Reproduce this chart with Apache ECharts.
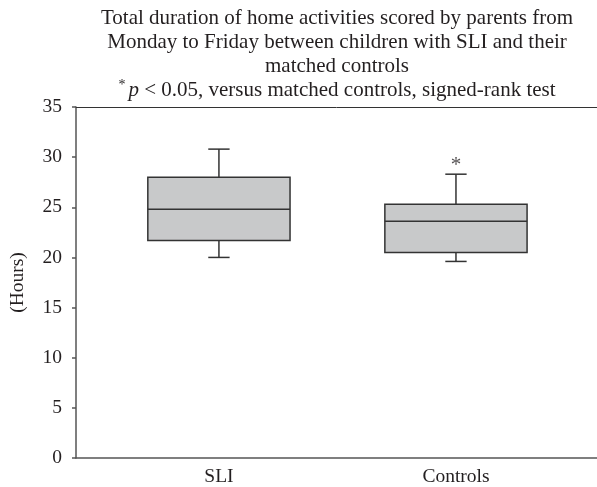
<!DOCTYPE html>
<html>
<head>
<meta charset="utf-8">
<script src="https://cdn.jsdelivr.net/npm/echarts@6/dist/echarts.min.js"></script>
<style>
  html, body { margin: 0; padding: 0; background: #ffffff; }
  #chart { width: 597px; height: 487px; }
</style>
</head>
<body>
<div id="chart"></div>
<script>
// Weekday home-activity hours (Monday–Friday), box-and-whisker summary per group
const categories = ['SLI', 'Controls'];
const whiskerLow = [20.0, 19.6];
const quartile1 = [21.7, 20.5];
const medians = [24.8, 23.6];
const quartile3 = [28.0, 25.3];
const whiskerHigh = [30.8, 28.3];

// Significance marker (asterisk) placed above the Controls box
const starGroups = ['Controls'];
const starHeights = [29.2];

// Y axis range and step (hours)
const yMin = 0;
const yMax = 35;
const yStep = 5;

const FONT = '"Liberation Serif", "Times New Roman", serif';
const INK = '#231f20';
const AXIS = '#555555';

const positions = categories.map((_, i) => i + 1);
const boxData = categories.map((_, i) => [
  positions[i], whiskerLow[i], quartile1[i], medians[i], quartile3[i], whiskerHigh[i]
]);
const starData = starGroups.map((g, i) => [categories.indexOf(g) + 1, starHeights[i]]);

function renderBox(params, api) {
  const x = api.value(0);
  const lo = api.coord([x, api.value(1)]);
  const q1 = api.coord([x, api.value(2)]);
  const md = api.coord([x, api.value(3)]);
  const q3 = api.coord([x, api.value(4)]);
  const hi = api.coord([x, api.value(5)]);
  const halfBox = api.size([0.6, 0])[0] / 2;
  const halfCap = api.size([0.09, 0])[0] / 2;
  const stroke = { stroke: '#333333', lineWidth: 1.5 };
  return {
    type: 'group',
    children: [
      { type: 'line', shape: { x1: lo[0], y1: lo[1], x2: q1[0], y2: q1[1] }, style: stroke },
      { type: 'line', shape: { x1: lo[0] - halfCap, y1: lo[1], x2: lo[0] + halfCap, y2: lo[1] }, style: stroke },
      { type: 'line', shape: { x1: q3[0], y1: q3[1], x2: hi[0], y2: hi[1] }, style: stroke },
      { type: 'line', shape: { x1: hi[0] - halfCap, y1: hi[1], x2: hi[0] + halfCap, y2: hi[1] }, style: stroke },
      {
        type: 'rect',
        shape: { x: q3[0] - halfBox, y: q3[1], width: halfBox * 2, height: q1[1] - q3[1] },
        style: { fill: '#c8c9ca', stroke: '#333333', lineWidth: 1.5 }
      },
      { type: 'line', shape: { x1: md[0] - halfBox, y1: md[1], x2: md[0] + halfBox, y2: md[1] }, style: stroke }
    ]
  };
}

const chart = echarts.init(document.getElementById('chart'), null, { renderer: 'canvas' });

chart.setOption({
  animation: false,
  backgroundColor: '#ffffff',
  title: {
    text: 'Total duration of home activities scored by parents from\n' +
          'Monday to Friday between children with SLI and their\n' +
          'matched controls\n' +
          '{sup|*}{it|p} < 0.05, versus matched controls, signed-rank test',
    left: 337,
    top: 6,
    padding: 0,
    textAlign: 'center',
    textStyle: {
      fontFamily: FONT,
      fontSize: 21,
      fontWeight: 'normal',
      color: INK,
      lineHeight: 24,
      rich: {
        sup: { fontFamily: FONT, fontSize: 14, color: INK, padding: [0, 3, 9, 0] },
        it: { fontFamily: FONT, fontSize: 21, fontStyle: 'italic', color: INK }
      }
    }
  },
  grid: { left: 74, right: 0, top: 107, bottom: 29 },
  xAxis: [
    {
      type: 'value',
      min: 0.397,
      max: 2.595,
      position: 'bottom',
      axisLine: { show: true, lineStyle: { color: AXIS, width: 1.5 } },
      axisTick: { show: false },
      splitLine: { show: false },
      axisLabel: {
        customValues: positions,
        formatter: v => categories[Math.round(v) - 1],
        fontFamily: FONT,
        fontSize: 19.5,
        color: INK,
        margin: 9
      }
    },
    {
      type: 'value',
      min: 0.397,
      max: 2.595,
      position: 'top',
      axisLine: { show: true, onZero: false, lineStyle: { color: '#333333', width: 1 } },
      axisTick: { show: false },
      axisLabel: { show: false },
      splitLine: { show: false }
    }
  ],
  yAxis: {
    type: 'value',
    min: yMin,
    max: yMax,
    interval: yStep,
    name: '(Hours)',
    nameLocation: 'middle',
    nameGap: 48,
    nameTextStyle: { fontFamily: FONT, fontSize: 19.5, color: INK },
    axisLine: { show: true, lineStyle: { color: AXIS, width: 1.5 } },
    axisTick: { show: true, length: 4, inside: false, lineStyle: { color: AXIS, width: 1.5 } },
    splitLine: { show: false },
    axisLabel: { fontFamily: FONT, fontSize: 19.5, color: INK, margin: 14 }
  },
  series: [
    {
      type: 'custom',
      name: 'Hours',
      xAxisIndex: 0,
      renderItem: renderBox,
      encode: { x: 0, y: [1, 2, 3, 4, 5] },
      data: boxData
    },
    {
      type: 'scatter',
      xAxisIndex: 0,
      symbolSize: 0,
      data: starData,
      label: {
        show: true,
        position: 'inside',
        formatter: '*',
        fontFamily: FONT,
        fontSize: 21,
        color: INK
      }
    }
  ]
});
</script>
</body>
</html>
